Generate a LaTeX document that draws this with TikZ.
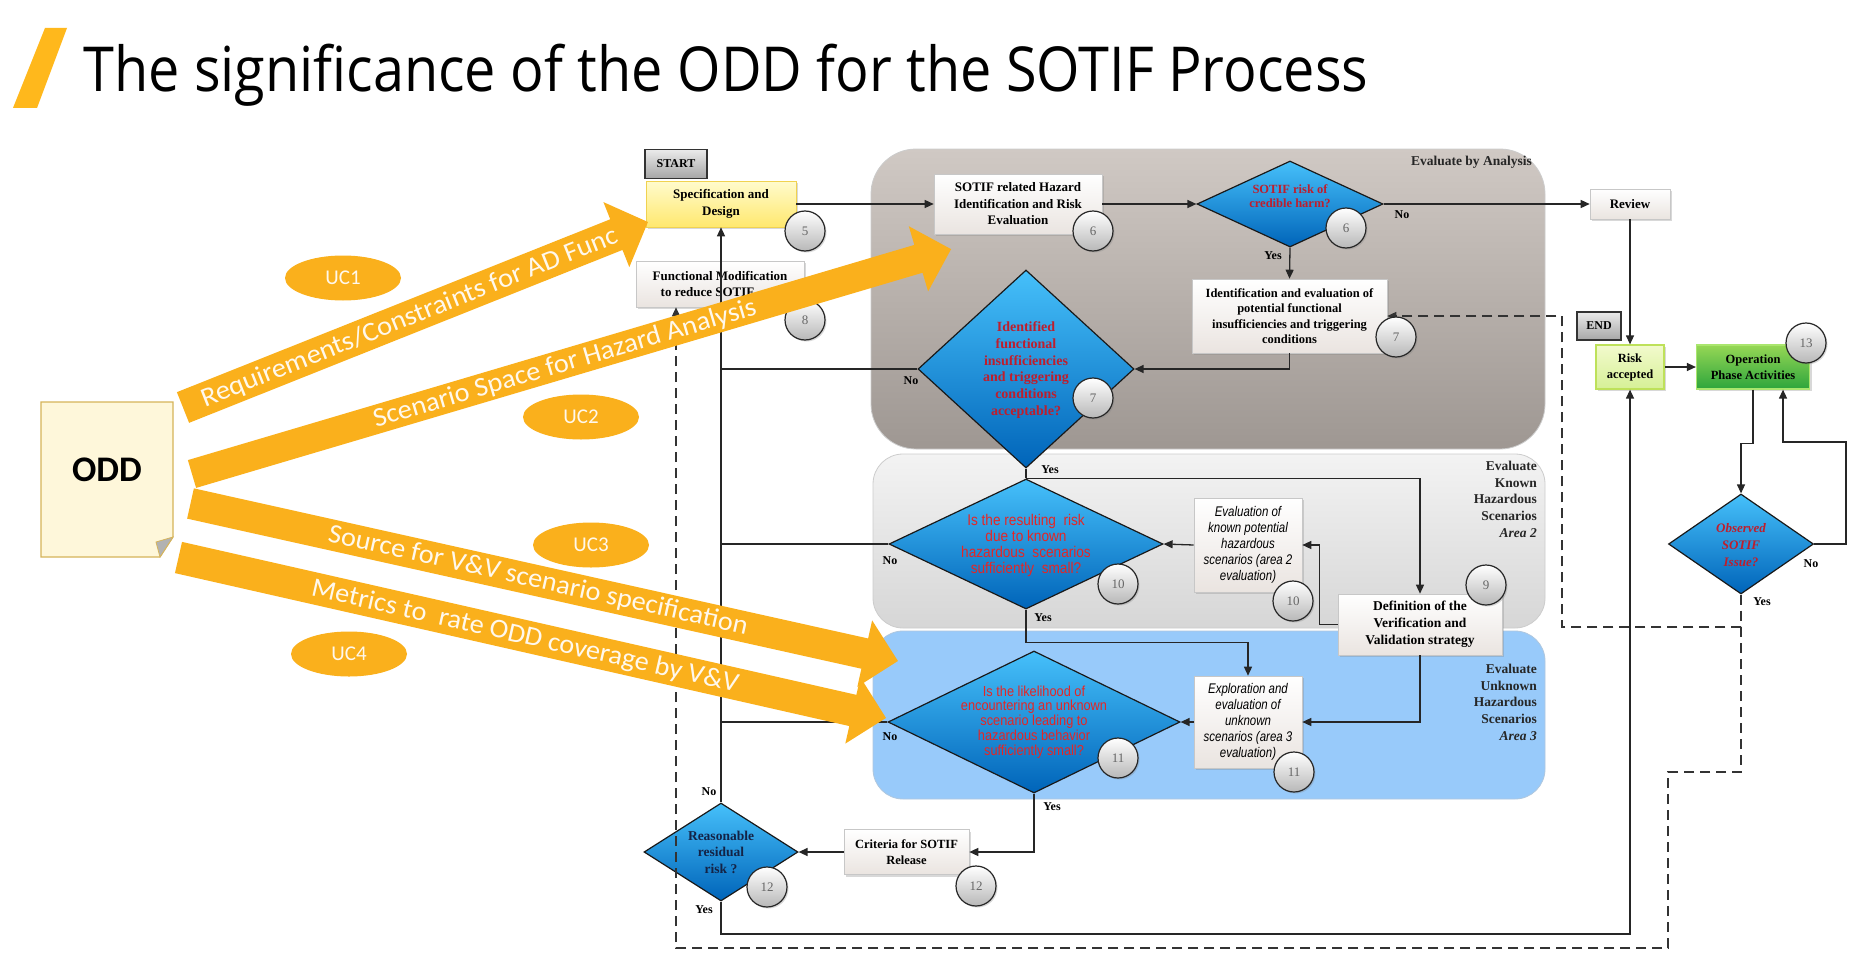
\documentclass[tikz,border=0pt]{standalone}
\usepackage{fontspec}
\usepackage{graphicx}
\setmainfont{Liberation Serif}
\newfontfamily\titlefont{Open Sans}
\newfontfamily\calib{Carlito}
\newfontfamily\narrowsans[FakeStretch=0.82]{Liberation Sans}
\newfontfamily\narrowB[FakeStretch=0.88]{Liberation Sans}
\usetikzlibrary{shapes.geometric,arrows.meta,shadows,calc}
\definecolor{orng}{RGB}{250,176,28}
\definecolor{odfill}{RGB}{254,247,218}
\definecolor{odline}{RGB}{214,180,90}
\definecolor{dred}{RGB}{190,30,45}
\definecolor{bred}{RGB}{228,38,38}
\definecolor{navy}{RGB}{20,35,70}
\definecolor{gtop}{RGB}{208,201,196}
\definecolor{gbot}{RGB}{158,151,146}
\definecolor{a2top}{RGB}{243,243,243}
\definecolor{a2bot}{RGB}{214,214,214}
\definecolor{athree}{RGB}{152,202,250}
\definecolor{dtop}{RGB}{70,192,250}
\definecolor{dbot}{RGB}{0,100,185}
\definecolor{boxb}{RGB}{234,228,224}
\definecolor{sptop}{RGB}{255,251,205}
\definecolor{spbot}{RGB}{255,232,110}
\definecolor{spline}{RGB}{240,210,80}
\definecolor{rktop}{RGB}{242,250,205}
\definecolor{rkbot}{RGB}{214,240,150}
\definecolor{rkline}{RGB}{190,225,90}
\definecolor{optop}{RGB}{150,215,85}
\definecolor{opbot}{RGB}{45,165,60}
\definecolor{opline}{RGB}{170,230,110}
\definecolor{titleor}{RGB}{255,184,28}
\definecolor{txtcream}{RGB}{255,248,236}
\begin{document}
\begin{tikzpicture}[x=1pt,y=-1pt,
  region/.style={draw=black!20,line width=0.8pt},
  rlabel/.style={font=\bfseries\fontsize{13.5}{16.7}\selectfont,inner sep=0,align=right,text=black!85},
  box/.style={draw=black!22,line width=0.6pt,top color=white,bottom color=boxb,
     drop shadow={shadow xshift=2pt,shadow yshift=-2pt,opacity=0.3},
     font=\bfseries\fontsize{13}{16.5}\selectfont,align=center,inner sep=1pt},
  ibox/.style={box,font=\narrowsans\itshape\fontsize{14}{16}\selectfont},
  termbox/.style={draw=black!80,line width=1.5pt,top color=black!8,bottom color=black!35,
     font=\bfseries\fontsize{12}{12}\selectfont,inner sep=0},
  dia/.style={diamond,draw=black!90,line width=1.2pt,inner sep=0,top color=dtop,bottom color=dbot},
  dtxt/.style={align=center,inner sep=0,text=dred,font=\bfseries\fontsize{14}{16.7}\selectfont},
  stxt/.style={align=center,inner sep=0,text=bred,font=\narrowB\fontsize{15.5}{16}\selectfont},
  numc/.style={circle,draw=black!85,line width=1.2pt,minimum size=40pt,inner sep=0,
     top color=white,bottom color=black!28,text=black!60,font=\fontsize{13}{13}\selectfont,
     drop shadow={shadow xshift=1.5pt,shadow yshift=-1.5pt,opacity=0.3}},
  yn/.style={font=\bfseries\fontsize{12}{12}\selectfont,inner sep=0},
  flow/.style={line width=1.3pt,draw=black!85},
  arr/.style={flow,-{Triangle[length=9pt,width=8pt]}},
  dsh/.style={line width=1.4pt,draw=black!80,dash pattern=on 10pt off 6pt,-{Triangle[length=9pt,width=8pt]}},
  artxt/.style={text=txtcream,inner sep=0,font=\calib\fontsize{27}{27}\selectfont},
  uc/.style={ellipse,fill=orng,minimum width=116pt,minimum height=45pt,inner sep=0,
     text=txtcream,font=\calib\fontsize{21}{21}\selectfont}
]
\useasboundingbox (0,0) rectangle (1857,971);
\fill[white] (0,0) rectangle (1857,971);

% ---------- title ----------
\fill[titleor] (13,108) -- (37,108) -- (67,28) -- (45,28) -- cycle;
\node[anchor=base west,inner sep=0] (title) at (83,92)
  {\resizebox{1285pt}{\height}{\titlefont\fontsize{62}{70}\selectfont The significance of the ODD for the SOTIF Process}};

% ---------- regions ----------
\path[region,rounded corners=45pt,top color=gtop,bottom color=gbot] (871,149) rectangle (1545,449);
\path[region,rounded corners=30pt,top color=a2top,bottom color=a2bot] (873,454) rectangle (1545,628);
\path[region,rounded corners=30pt,fill=athree,draw=athree!80!black!60] (873,631) rectangle (1545,799);
\node[rlabel,anchor=east] (lab1) at (1532,162) {Evaluate by Analysis};
\node[rlabel,anchor=north east] (lab2) at (1537,461) {Evaluate\\Known\\Hazardous\\Scenarios\\\textit{Area 2}};
\node[rlabel,anchor=north east] (lab3) at (1537,664) {Evaluate\\Unknown\\Hazardous\\Scenarios\\\textit{Area 3}};

% ---------- ODD document ----------
\draw[fill=odfill,draw=odline,line width=1.2pt] (41,402) -- (173,402) -- (173,537) -- (160,557) -- (41,557) -- cycle;
\draw[fill=black!30,draw=odline,line width=0.8pt] (173,537) -- (156,542) -- (160,557) -- cycle;
\node[font=\calib\bfseries\fontsize{36}{36}\selectfont,inner sep=0] (odd) at (107,470) {ODD};

% ---------- boxes ----------
\node[termbox,minimum width=62pt,minimum height=29pt] (start) at (676,164) {START};
\node[box,top color=sptop,bottom color=spbot,draw=spline,minimum width=150pt,minimum height=46pt] (spec) at (721,204) {Specification and\\Design};
\node[box,minimum width=168pt,minimum height=46pt] (fmod) at (720,284) {Functional Modification\\to reduce SOTIF\phantom{ risk}};
\node[box,minimum width=168pt,minimum height=60pt] (haz) at (1018,204) {SOTIF related Hazard\\Identification and Risk\\Evaluation};
\node[box,font=\bfseries\fontsize{12.5}{15.5}\selectfont,minimum width=195pt,minimum height=74pt] (ident) at (1289.5,316) {Identification and evaluation of\\potential functional\\insufficiencies and triggering\\conditions};
\node[box,minimum width=80pt,minimum height=30pt] (review) at (1630,204) {Review};
\node[termbox,minimum width=44pt,minimum height=28pt] (end) at (1599,326) {END};
\node[box,top color=rktop,bottom color=rkbot,draw=rkline,line width=1.2pt,font=\bfseries\fontsize{12.5}{16}\selectfont,minimum width=68pt,minimum height=44pt] (risk) at (1630,367) {Risk\\accepted};
\node[box,top color=optop,bottom color=opbot,draw=opline,line width=1.2pt,font=\bfseries\fontsize{12.5}{16}\selectfont,minimum width=113pt,minimum height=44pt] (op) at (1753,367) {Operation\\Phase Activities};
\node[ibox,minimum width=108pt,minimum height=94pt] (evk) at (1248,545) {Evaluation of\\known potential\\hazardous\\scenarios (area 2\\evaluation)};
\node[ibox,minimum width=108pt,minimum height=92pt] (expl) at (1248,722) {Exploration and\\evaluation of\\unknown\\scenarios (area 3\\evaluation)};
\node[box,font=\bfseries\fontsize{13.5}{17}\selectfont,minimum width=164pt,minimum height=61pt] (def) at (1420,624.5) {Definition of the\\Verification and\\Validation strategy};
\node[box,font=\bfseries\fontsize{12.5}{16}\selectfont,minimum width=125pt,minimum height=45pt] (crit) at (906.5,852) {Criteria for SOTIF\\Release};

% ---------- diamonds ----------
\node[dia,minimum width=186pt,minimum height=86pt] (d6) at (1290,204) {};
\node[dtxt,font=\bfseries\fontsize{12.5}{14.5}\selectfont] (d6t) at (1290,196) {SOTIF risk of\\credible harm?};
\node[dia,minimum width=216pt,minimum height=198pt] (d7) at (1026,369) {};
\node[dtxt] (d7t) at (1026,370) {Identified\\functional\\insufficiencies\\and triggering\\conditions\\acceptable?};
\node[dia,minimum width=274pt,minimum height=130pt] (d10) at (1026,544) {};
\node[stxt] (d10t) at (1026,545) {Is the resulting\ \ risk\\due to known\\hazardous\ \ scenarios\\sufficiently\ \ small?};
\node[dia,minimum width=292pt,minimum height=142pt] (d11) at (1034,722) {};
\node[stxt,font=\narrowB\fontsize{14.5}{14.8}\selectfont] (d11t) at (1034,722) {Is the likelihood of\\encountering an unknown\\scenario leading to\\hazardous behavior\\sufficiently small?};
\node[dia,minimum width=154pt,minimum height=98pt] (d12) at (721,852) {};
\node[dtxt,text=navy,font=\bfseries\fontsize{13.5}{16.5}\selectfont] (d12t) at (721,852) {Reasonable\\residual\\risk ?};
\node[dia,minimum width=145pt,minimum height=100pt] (dobs) at (1741,544) {};
\node[dtxt,font=\bfseries\itshape\fontsize{13}{16.7}\selectfont] (dobst) at (1741,545) {Observed\\SOTIF\\Issue?};

% ---------- connectors ----------
\draw[arr] (spec.east) -- (haz.west);
\draw[arr] (haz.east) -- (d6.west);
\draw[arr] (d6.east) -- (review.west);
\draw[arr] (d6.south) -- (ident.north);
\draw[arr] (ident.south) |- (d7.east);
\draw[flow] (d7.west) -- (d7.west -| spec.south);
\draw[flow] (d7.south) -- (d10.north);
\draw[arr] (d10.north) -| (def.north);
\draw[arr] (def.west) -- ++(-18,0) |- (evk.east);
\draw[arr] (evk.west) -- (d10.east);
\draw[flow] (d10.west) -- (d10.west -| spec.south);
\draw[arr] (d10.south) -- ++(0,33) -| (expl.north);
\draw[arr] (def.south) |- (expl.east);
\draw[arr] (expl.west) -- (d11.east);
\draw[flow] (d11.west) -- (d11.west -| spec.south);
\draw[arr] (d11.south) |- (crit.east);
\draw[arr] (crit.west) -- (d12.east);
\draw[arr] (d12.north) -- (spec.south);
\coordinate (yb) at (1630,934);
\draw[arr] (d12.south) |- (yb) -- (risk.south);
\draw[arr] (review.south) -- (risk.north);
\draw[arr] (risk.east) -- (op.west);
\draw[arr] (op.south) -- ++(0,54) -| (dobs.north);
\coordinate (lp) at (1846,442);
\draw[arr] (dobs.east) -| (lp) -| ([xshift=30pt]op.south);
% dashed feedback
\coordinate (j1) at (1741,627);
\coordinate (j2) at (1562,316);
\coordinate (j3) at (1741,772);
\coordinate (j4) at (1668,772);
\coordinate (j5) at (1668,948);
\coordinate (j6) at (676,948);
\draw[dsh] (dobs.south) -- (j1) -| (j2) -- (ident.east);
\draw[dsh] (j1) -- (j3) -- (j4) -- (j5) -- (j6) -- (j6 |- fmod.south);

% ---------- yes / no ----------
\node[yn] (n6) at (1402,215) {No};
\node[yn] (y6) at (1273,256) {Yes};
\node[yn] (n7) at (911,381) {No};
\node[yn] (y7) at (1050,470) {Yes};
\node[yn] (n10) at (890,561) {No};
\node[yn] (y10) at (1043,618) {Yes};
\node[yn] (n11) at (890,737) {No};
\node[yn] (y11) at (1052,807) {Yes};
\node[yn] (n12) at (709,792) {No};
\node[yn] (y12) at (704,910) {Yes};
\node[yn] (nob) at (1811,564) {No};
\node[yn] (yob) at (1762,602) {Yes};

% ---------- number circles ----------
\node[numc] (c5) at (805,231) {5};
\node[numc] (c8) at (805,320) {8};
\node[numc] (c6a) at (1093,231) {6};
\node[numc] (c6b) at (1346,228) {6};
\node[numc] (c7a) at (1396,337) {7};
\node[numc] (c7b) at (1093,398) {7};
\node[numc] (c10a) at (1118,584) {10};
\node[numc] (c10b) at (1293,601) {10};
\node[numc] (c9) at (1486,585) {9};
\node[numc] (c11a) at (1118,758) {11};
\node[numc] (c11b) at (1294,772) {11};
\node[numc] (c12a) at (767,887) {12};
\node[numc] (c12b) at (976,886) {12};
\node[numc] (c13) at (1806,343) {13};

% ---------- orange block arrows ----------
\begin{scope}[shift={(183,407.5)},rotate=21.75]
\fill[orng] (0,-16.5) -- (466.6,-16.5) -- (466.6,-35) -- (500.6,0) -- (466.6,35) -- (466.6,16.5) -- (0,16.5) -- cycle;
\end{scope}
\begin{scope}[shift={(192,474)},rotate=16.5]
\fill[orng] (0,-14.5) -- (757.7,-14.5) -- (757.7,-34) -- (791.7,0) -- (757.7,34) -- (757.7,14.5) -- (0,14.5) -- cycle;
\end{scope}
\begin{scope}[shift={(190.5,503.5)},rotate=-12.55]
\fill[orng] (0,-15.5) -- (690.8,-15.5) -- (690.8,-34) -- (724.8,0) -- (690.8,34) -- (690.8,15.5) -- (0,15.5) -- cycle;
\end{scope}
\begin{scope}[shift={(178.5,557.5)},rotate=-12.78]
\fill[orng] (0,-16) -- (691.5,-16) -- (691.5,-34) -- (725.5,0) -- (691.5,34) -- (691.5,16) -- (0,16) -- cycle;
\end{scope}
\node[artxt,rotate=21.75] (t1) at (410,318) {\resizebox{446pt}{\height}{Requirements/Constraints for AD Func}};
\node[artxt,rotate=16.5] (t2) at (565,364) {\resizebox{398pt}{\height}{Scenario Space for Hazard Analysis}};
\node[artxt,rotate=-12.55] (t3) at (538,581) {\resizebox{429pt}{\height}{Source for V\&V scenario specification}};
\node[artxt,rotate=-12.78] (t4) at (525,637) {\resizebox{437pt}{\height}{Metrics to\ \ rate ODD coverage by V\&V}};

\node[uc] (uc1) at (343,278) {UC1};
\node[uc] (uc2) at (581,417) {UC2};
\node[uc] (uc3) at (591,545) {UC3};
\node[uc] (uc4) at (349,654) {UC4};
\end{tikzpicture}
\end{document}
